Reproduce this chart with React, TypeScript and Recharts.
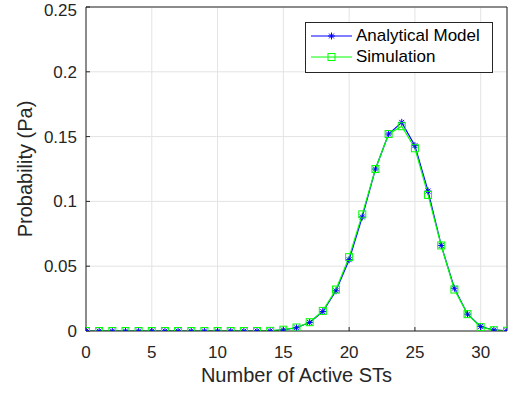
import React from 'react';
import { LineChart, Line, CartesianGrid, XAxis, YAxis, Legend, ReferenceLine, Label } from 'recharts';

const activeSTs = [
  0, 1, 2, 3, 4, 5, 6, 7, 8, 9, 10, 11, 12, 13, 14, 15, 16,
  17, 18, 19, 20, 21, 22, 23, 24, 25, 26, 27, 28, 29, 30, 31, 32,
];
const analytical = [
  0, 0, 0, 0, 0, 0, 0, 0, 0, 0, 0, 0, 0, 0, 0.0001, 0.0008, 0.0025,
  0.0066, 0.015, 0.031, 0.055, 0.088, 0.125, 0.152, 0.161, 0.143, 0.108, 0.066, 0.033, 0.013, 0.0035, 0.0008, 0.0002,
];
const simulation = [
  0, 0, 0, 0, 0, 0, 0, 0, 0, 0, 0, 0, 0, 0, 0.0001, 0.001, 0.0027,
  0.0068, 0.0155, 0.032, 0.057, 0.09, 0.125, 0.152, 0.158, 0.141, 0.105, 0.066, 0.032, 0.013, 0.003, 0.0006, 0.0002,
];
const xTicks = [0, 5, 10, 15, 20, 25, 30];
const yTicks = [0, 0.05, 0.1, 0.15, 0.2, 0.25];

const data = activeSTs.map((n, i) => ({ n, analytical: analytical[i], simulation: simulation[i] }));

const FONT = '"Liberation Sans", Arial, sans-serif';
const INK = '#262626';
const BLUE = '#0000ff';
const GREEN = '#00ff00';

// MATLAB style '*' marker
const Star = (props: any) => {
  const { cx, cy } = props;
  if (cx == null || cy == null) return null;
  const r = 3.5;
  const d = r * 0.7;
  return (
    <g stroke={BLUE} strokeWidth={1} fill="none">
      <line x1={cx - r} y1={cy} x2={cx + r} y2={cy} />
      <line x1={cx} y1={cy - r} x2={cx} y2={cy + r} />
      <line x1={cx - d} y1={cy - d} x2={cx + d} y2={cy + d} />
      <line x1={cx - d} y1={cy + d} x2={cx + d} y2={cy - d} />
    </g>
  );
};

// MATLAB style 's' marker
const Square = (props: any) => {
  const { cx, cy } = props;
  if (cx == null || cy == null) return null;
  return <rect x={cx - 3.5} y={cy - 3.5} width={7} height={7} stroke={GREEN} strokeWidth={1} fill="none" />;
};

const renderLegend = () => {
  const rows = [
    { name: 'Analytical Model', color: BLUE, marker: <Star cx={20.5} cy={10} /> },
    { name: 'Simulation', color: GREEN, marker: <Square cx={20.5} cy={10} /> },
  ];
  return (
    <div
      style={{
        border: `1px solid ${INK}`,
        background: '#fff',
        width: 186,
        height: 47,
        boxSizing: 'content-box',
        paddingTop: 2,
        fontFamily: FONT,
      }}
    >
      {rows.map((r) => (
        <div key={r.name} style={{ display: 'flex', alignItems: 'center', height: 21.5 }}>
          <svg width={41} height={20} style={{ marginLeft: 5 }}>
            <line x1={0} y1={10} x2={41} y2={10} stroke={r.color} strokeWidth={1} />
            {r.marker}
          </svg>
          <span style={{ marginLeft: 4, fontSize: 17, color: '#000' }}>{r.name}</span>
        </div>
      ))}
    </div>
  );
};

export default function App() {
  return (
    <div style={{ position: 'absolute', left: 0, top: 0, background: '#fff' }}>
      <LineChart
        width={508}
        height={394}
        data={data}
        margin={{ top: 7, right: 1, bottom: 0, left: 0 }}
        style={{ fontFamily: FONT }}
      >
        <CartesianGrid stroke="#e3e3e3" strokeWidth={1} />
        <XAxis
          dataKey="n"
          type="number"
          domain={[0, 32]}
          ticks={xTicks}
          allowDataOverflow
          height={63}
          stroke={INK}
          tickSize={-4}
          tickMargin={19}
          tick={{ fill: INK, fontSize: 17, fontFamily: FONT }}
        >
          <Label
            content={({ viewBox }: any) => (
              <text
                x={viewBox.x + viewBox.width / 2}
                y={viewBox.y + 51}
                textAnchor="middle"
                fill={INK}
                fontSize={20}
                fontFamily={FONT}
              >
                Number of Active STs
              </text>
            )}
          />
        </XAxis>
        <YAxis
          type="number"
          domain={[0, 0.25]}
          ticks={yTicks}
          allowDataOverflow
          width={86}
          stroke={INK}
          tickSize={-4}
          tickMargin={13}
          tick={{ fill: INK, fontSize: 17, fontFamily: FONT }}
        >
          <Label
            content={({ viewBox }: any) => {
              const x = viewBox.x + 25;
              const y = viewBox.y + viewBox.height / 2;
              return (
                <text
                  x={x}
                  y={y}
                  transform={`rotate(-90 ${x} ${y})`}
                  textAnchor="middle"
                  dominantBaseline="central"
                  fill={INK}
                  fontSize={20}
                  fontFamily={FONT}
                >
                  Probability (Pa)
                </text>
              );
            }}
          />
        </YAxis>
        <ReferenceLine y={0.25} stroke={INK} strokeWidth={1} />
        <ReferenceLine x={32} stroke={INK} strokeWidth={1} />
        <Line
          type="linear"
          dataKey="analytical"
          name="Analytical Model"
          stroke={BLUE}
          strokeWidth={1.2}
          dot={<Star />}
          isAnimationActive={false}
        />
        <Line
          type="linear"
          dataKey="simulation"
          name="Simulation"
          stroke={GREEN}
          strokeWidth={1.2}
          dot={<Square />}
          isAnimationActive={false}
        />
        <Legend
          layout="vertical"
          align="center"
          verticalAlign="middle"
          content={renderLegend}
          wrapperStyle={{ position: 'absolute', left: 305, top: 22, width: 188 }}
        />
      </LineChart>
    </div>
  );
}
